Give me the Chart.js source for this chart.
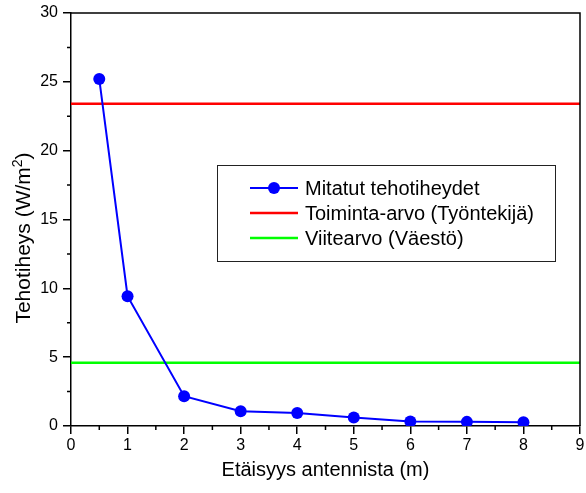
<!DOCTYPE html>
<html>
<head>
<meta charset="utf-8">
<script src="https://cdn.jsdelivr.net/npm/chart.js@4.4.1/dist/chart.umd.min.js"></script>
<style>
  html, body { margin: 0; padding: 0; background: #fff; }
  canvas { display: block; }
</style>
</head>
<body>
<canvas id="c" width="586" height="493"></canvas>
<script>
// ---- data ----
const distances = [0.5, 1, 2, 3, 4, 5, 6, 7, 8];
const measured = [25.2, 9.43, 2.16, 1.07, 0.95, 0.61, 0.32, 0.30, 0.27];
const actionValue = 23.4;     // Toiminta-arvo (Työntekijä)
const referenceValue = 4.6;   // Viitearvo (Väestö)
const xRange = [0, 9];
const yRange = [0, 30];
const seriesNames = ['Mitatut tehotiheydet', 'Toiminta-arvo (Työntekijä)', 'Viitearvo (Väestö)'];
const xTitle = 'Etäisyys antennista (m)';
const yTitleMain = 'Tehotiheys (W/m';
const yTitleSup = '2';
const yTitleEnd = ')';

const FONT = '"Liberation Sans", Arial, sans-serif';
const BLUE = '#0000ff', RED = '#ff0000', GREEN = '#00ff00';

const measuredPts = distances.map((d, i) => ({ x: d, y: measured[i] }));
const hline = v => xRange.map(x => ({ x: x, y: v }));

const decorPlugin = {
  id: 'decor',
  afterDatasetsDraw(chart) {
    const { ctx, chartArea: a, scales } = chart;
    const xs = scales.x, ys = scales.y;
    ctx.save();
    // frame top/right
    ctx.strokeStyle = '#000';
    ctx.lineWidth = 1.5;
    ctx.beginPath();
    ctx.moveTo(a.left, a.top);
    ctx.lineTo(a.right, a.top);
    ctx.lineTo(a.right, a.bottom);
    ctx.stroke();
    // minor ticks
    ctx.lineWidth = 1.5;
    ctx.beginPath();
    for (let v = xRange[0] + 0.5; v < xRange[1]; v += 1) {
      const px = xs.getPixelForValue(v);
      ctx.moveTo(px, a.bottom);
      ctx.lineTo(px, a.bottom + 4);
    }
    for (let v = yRange[0] + 2.5; v < yRange[1]; v += 5) {
      const py = ys.getPixelForValue(v);
      ctx.moveTo(a.left, py);
      ctx.lineTo(a.left - 4, py);
    }
    ctx.stroke();

    // axis titles
    ctx.fillStyle = '#000';
    ctx.font = '20px ' + FONT;
    ctx.textAlign = 'center';
    ctx.textBaseline = 'alphabetic';
    ctx.fillText(xTitle, (a.left + a.right) / 2, 476);

    // y title with superscript
    const mainFont = '21px ' + FONT;
    const supFont = '14px ' + FONT;
    ctx.font = mainFont;
    const w1 = ctx.measureText(yTitleMain).width;
    const w3 = ctx.measureText(yTitleEnd).width;
    ctx.font = supFont;
    const w2 = ctx.measureText(yTitleSup).width;
    const total = w1 + w2 + w3;
    ctx.translate(30, 238);
    ctx.rotate(-Math.PI / 2);
    ctx.textAlign = 'left';
    let x0 = -total / 2;
    ctx.font = mainFont;
    ctx.fillText(yTitleMain, x0, 0);
    ctx.font = supFont;
    ctx.fillText(yTitleSup, x0 + w1, -8);
    ctx.font = mainFont;
    ctx.fillText(yTitleEnd, x0 + w1 + w2, 0);
    ctx.restore();

    // legend
    ctx.save();
    ctx.fillStyle = '#fff';
    ctx.fillRect(217, 165, 338, 96);
    ctx.strokeStyle = '#222';
    ctx.lineWidth = 1;
    ctx.strokeRect(217.5, 165.5, 338, 96);
    const rows = [188, 213, 238];
    chart.data.datasets.forEach((ds, i) => {
      const y = rows[i];
      ctx.strokeStyle = ds.borderColor;
      ctx.lineWidth = ds.borderWidth;
      ctx.beginPath();
      ctx.moveTo(250, y);
      ctx.lineTo(298, y);
      ctx.stroke();
      if (ds.pointRadius > 0) {
        ctx.fillStyle = ds.pointBackgroundColor;
        ctx.beginPath();
        ctx.arc(274, y, 6, 0, Math.PI * 2);
        ctx.fill();
      }
      ctx.fillStyle = '#000';
      ctx.font = '20px ' + FONT;
      ctx.textAlign = 'left';
      ctx.textBaseline = 'middle';
      ctx.fillText(ds.label, 305, y + 1);
    });
    ctx.restore();
  }
};

const fixAxis = (size, dim) => scale => {
  scale[dim] = size;
  scale.paddingLeft = scale.paddingRight = scale.paddingTop = scale.paddingBottom = 0;
};

new Chart(document.getElementById('c'), {
  type: 'line',
  data: {
    datasets: [
      { label: seriesNames[0], data: measuredPts, borderColor: BLUE, backgroundColor: BLUE,
        pointBackgroundColor: BLUE, pointBorderColor: BLUE, pointRadius: 6, pointBorderWidth: 0,
        borderWidth: 2, tension: 0, order: 0 },
      { label: seriesNames[1], data: hline(actionValue), borderColor: RED, backgroundColor: RED,
        pointRadius: 0, borderWidth: 2.5, order: 1 },
      { label: seriesNames[2], data: hline(referenceValue), borderColor: GREEN, backgroundColor: GREEN,
        pointRadius: 0, borderWidth: 2.5, order: 2 }
    ]
  },
  options: {
    responsive: false,
    animation: false,
    devicePixelRatio: 1,
    layout: { padding: { top: 13, right: 6, left: 0, bottom: 0 } },
    plugins: { legend: { display: false }, tooltip: { enabled: false } },
    scales: {
      x: {
        type: 'linear', min: xRange[0], max: xRange[1],
        afterFit: fixAxis(67, 'height'),
        border: { display: true, color: '#000', width: 1.5 },
        grid: { drawOnChartArea: false, drawTicks: true, tickLength: 8, color: '#000', lineWidth: 1.5 },
        ticks: { stepSize: 1, color: '#000', padding: 2, maxRotation: 0, autoSkip: false,
                 font: { family: FONT, size: 16 } }
      },
      y: {
        type: 'linear', min: yRange[0], max: yRange[1],
        afterFit: fixAxis(71, 'width'),
        border: { display: true, color: '#000', width: 1.5 },
        grid: { drawOnChartArea: false, drawTicks: true, tickLength: 8, color: '#000', lineWidth: 1.5 },
        ticks: { stepSize: 5, color: '#000', padding: 5, font: { family: FONT, size: 16 } }
      }
    }
  },
  plugins: [decorPlugin]
});
</script>
</body>
</html>
